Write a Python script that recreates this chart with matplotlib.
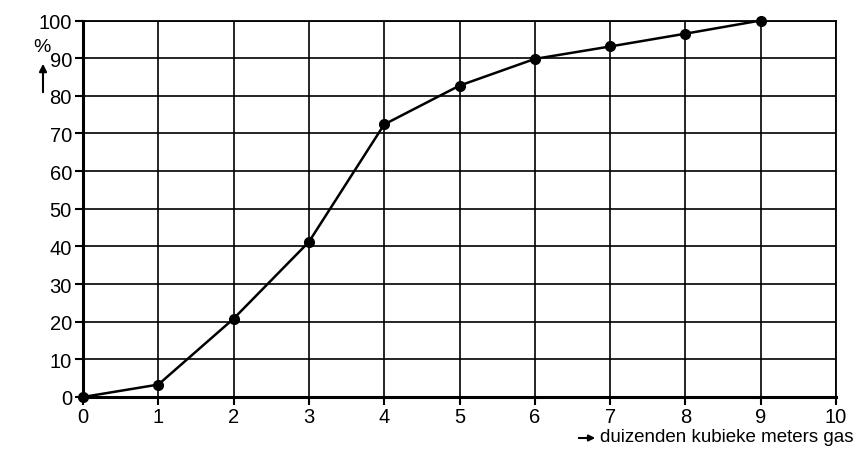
import matplotlib
matplotlib.use("Agg")
import matplotlib.pyplot as plt

x_vals = [0, 1, 2, 3, 4, 5, 6, 7, 8, 9]
y_vals = [0, 3.3, 20.8, 41.2, 72.4, 82.7, 89.8, 93.1, 96.5, 100]
x_ticks = list(range(0, 11))
y_ticks = list(range(0, 101, 10))

plt.rcParams['font.family'] = ['Liberation Sans', 'DejaVu Sans']

fig = plt.figure(figsize=(8.56, 4.52), dpi=100)
ax = fig.add_axes([83/856, 54/452, (836-83)/856, (398-21.5)/452])
ax.set_xlim(0, 10)
ax.set_ylim(0, 100)
ax.set_xticks(x_ticks)
ax.set_yticks(y_ticks)
ax.grid(True, color='black', linewidth=1.2)
ax.set_axisbelow(True)
for s in ax.spines.values():
    s.set_linewidth(1.3)
ax.spines['left'].set_linewidth(2.2)
ax.spines['bottom'].set_linewidth(2.2)
ax.tick_params(direction='out', length=6, width=1.5, labelsize=14.5, pad=2, colors='black')
ax.tick_params(axis='x', pad=1)
ax.plot(x_vals, y_vals, color='black', linewidth=1.8, marker='o', markersize=7, clip_on=False, zorder=5)

fig.text(42/856, 1-47/452, '%', fontsize=14, ha='center', va='center')
fig.add_artist(matplotlib.patches.FancyArrowPatch((43/856, 1-96/452), (43/856, 1-62/452),
    transform=fig.transFigure, arrowstyle='-|>', mutation_scale=11, color='black', linewidth=1.5))
fig.add_artist(matplotlib.patches.FancyArrowPatch((576/856, 1-439/452), (598/856, 1-439/452),
    transform=fig.transFigure, arrowstyle='-|>', mutation_scale=9, color='black', linewidth=1.5))
fig.text(600/856, 1-438/452, 'duizenden kubieke meters gas', fontsize=13.5, ha='left', va='center')

fig.savefig('out.png', dpi=100)
